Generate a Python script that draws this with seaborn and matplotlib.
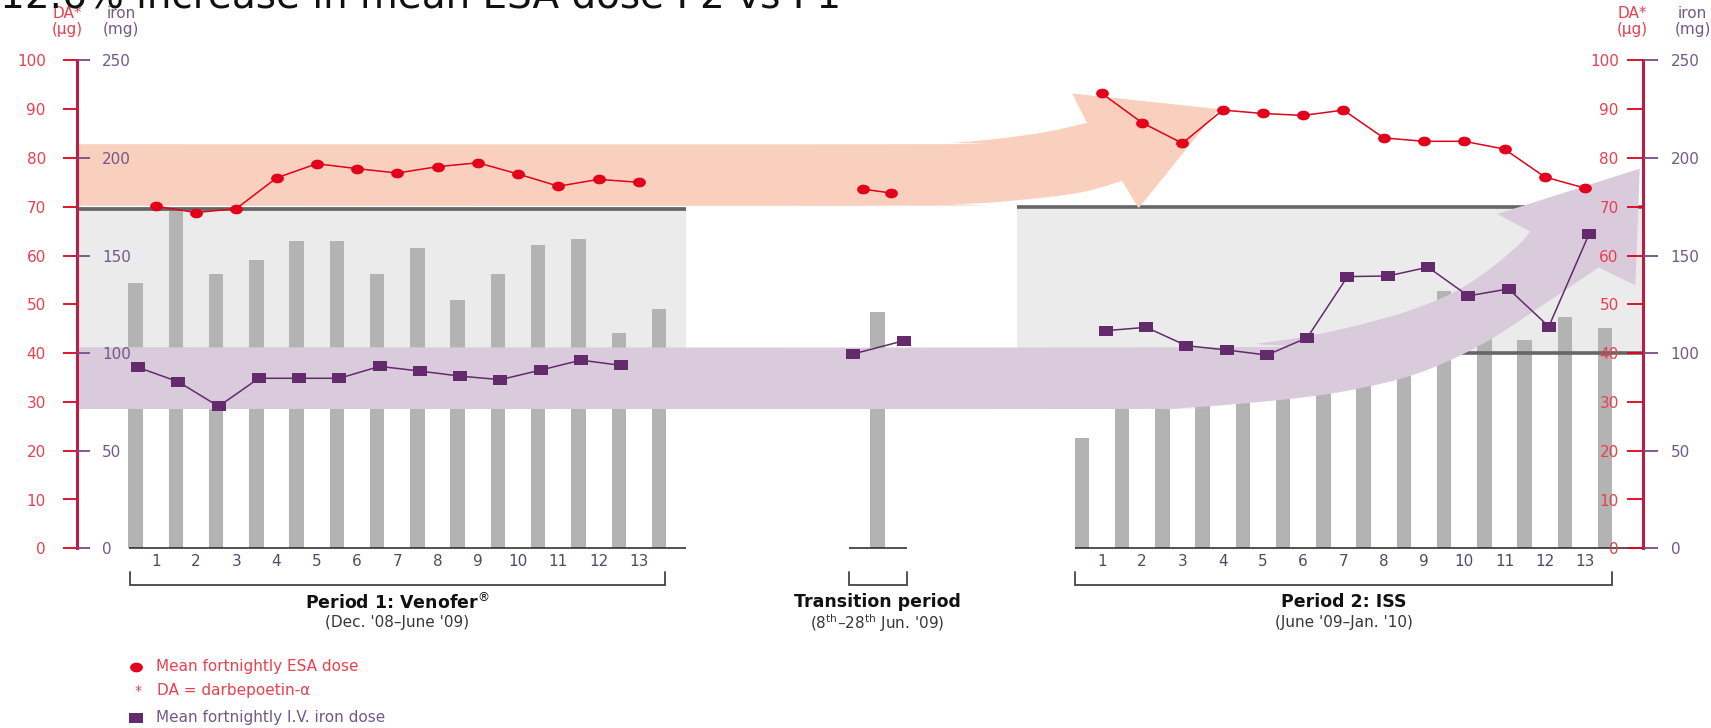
import numpy as np
import pandas as pd
import matplotlib
matplotlib.use("Agg")
import matplotlib.pyplot as plt
from matplotlib.path import Path
from matplotlib.patches import Polygon
import seaborn as sns

sns.set_theme(style="white")
plt.rcParams['font.family'] = ['DejaVu Sans']

# ---------------- data ----------------
week_labels = [str(i) for i in range(1, 14)]

# Period 1 (Venofer), fortnightly means
esa_p1 = [70.1, 68.8, 69.6, 75.9, 78.8, 77.8, 76.9, 78.2, 79.0, 76.7, 74.2, 75.6, 75.0]     # DA, µg
iron_p1 = [92.7, 85.3, 72.7, 87.1, 87.1, 87.1, 93.2, 90.8, 88.2, 86.4, 91.3, 96.4, 93.7]    # iron, mg
bar_p1 = [54.3, 69.3, 56.3, 59.1, 62.9, 62.9, 56.3, 61.5, 50.8, 56.3, 62.2, 63.3, 44.2, 49.1]

# Transition period
esa_tr = [73.6, 72.8]
iron_tr = [99.6, 106.4]
bar_tr = [48.5]

# Period 2 (ISS)
esa_p2 = [93.2, 87.2, 83.0, 89.8, 89.1, 88.7, 89.8, 84.1, 83.4, 83.4, 81.8, 76.1, 73.8]
iron_p2 = [111.5, 113.2, 103.8, 101.6, 99.0, 107.9, 139.2, 139.5, 144.0, 129.3, 132.9, 113.6, 161.0]
bar_p2 = [22.7, 36, 36, 37, 37, 38, 39, 40, 42, 52.7, 49, 42.6, 47.5, 45.1]

da_ticks = list(range(0, 101, 10))
iron_ticks = list(range(0, 251, 50))

# ---------------- style ----------------
RED = '#e2001a'
RED_TXT = '#e8404e'
PURPLE = '#632b6c'
PURPLE_TXT = '#735889'
SPINE = '#bd1c44'
BAR = '#b3b3b3'
BG = '#ebebeb'
DARK = '#666666'
ORANGE_BAND = '#f9cfbe'
PURPLE_BAND = '#d9cbdb'

W, H = 1711, 728
fig = plt.figure(figsize=(W / 100, H / 100), dpi=100)

# plot area in pixels
px_left, px_right = 77.0, 1643.0
px_top, px_bot = 60.3, 548.3
rect = [px_left / W, 1 - px_bot / H, (px_right - px_left) / W, (px_bot - px_top) / H]
ax = fig.add_axes(rect)

# x positions (one unit per fortnight)
p1_start, tr_center, p2_start = 0.0, 18.43, 23.5
n = len(week_labels)
xmin, xmax = -1.456, 37.44

bar_x_p1 = p1_start + np.arange(n + 1)
bar_x_p2 = p2_start + np.arange(n + 1)
esa_x_p1 = p1_start + np.arange(n) + 0.5
esa_x_p2 = p2_start + np.arange(n) + 0.5
iron_x_p1 = p1_start + np.arange(n) + 0.06
iron_x_p2 = p2_start + np.arange(n) + 0.6
esa_x_tr = tr_center + np.array([-0.36, 0.34])
iron_x_tr = tr_center + np.array([-0.60, 0.66])

# ---------------- background panels ----------------
ax.fill_between([xmin, 13.66], 40, 69.6, color=BG, lw=0, zorder=1)
ax.fill_between([21.89, xmax], 40, 70.0, color=BG, lw=0, zorder=1)

# ---------------- bars ----------------
bars = pd.DataFrame({
    'pos': np.r_[bar_x_p1, [tr_center], bar_x_p2],
    'value': bar_p1 + bar_tr + bar_p2,
})
sns.barplot(data=bars, x='pos', y='value', native_scale=True, width=0.36,
            color=BAR, saturation=1, errorbar=None, linewidth=0, ax=ax, zorder=2)

# reference lines of the panels
ax.hlines(69.6, xmin, 13.66, color=DARK, lw=2.7, zorder=3)
ax.hlines([70.0, 40.0], 21.89, xmax, color=DARK, lw=2.6, zorder=3)


# ---------------- trend arrows ----------------
def catmull_rom(pts, steps=12):
    p = np.asarray(pts, float)
    p = np.vstack([p[0], p, p[-1]])
    out = []
    t = np.linspace(0, 1, steps, endpoint=False)[:, None]
    for i in range(1, len(p) - 2):
        p0, p1, p2, p3 = p[i - 1], p[i], p[i + 1], p[i + 2]
        out.append(0.5 * (2 * p1 + (-p0 + p2) * t + (2 * p0 - 5 * p1 + 4 * p2 - p3) * t ** 2
                          + (-p0 + 3 * p1 - 3 * p2 + p3) * t ** 3))
    out.append(p[-2][None])
    return np.vstack(out)


esa_top = [(xmin, 82.8), (19.24, 82.8), (20.32, 83.1), (21.15, 83.7), (21.97, 84.5),
           (22.8, 85.6), (23.63, 87.2)]
esa_head = [(23.26, 93.2), (26.9, 90.0), (24.91, 69.7)]
esa_bottom = [(24.5, 75.3), (23.63, 73.2), (22.8, 72.1), (21.97, 71.4), (21.15, 70.8),
              (20.32, 70.5), (19.24, 70.2), (xmin, 70.2)]
esa_arrow = np.vstack([catmull_rom(esa_top), esa_head, catmull_rom(esa_bottom)])
ax.add_patch(Polygon(esa_arrow, closed=True, facecolor=ORANGE_BAND, edgecolor='none', zorder=4))

fe_top = [(xmin, 41.2), (26.3, 41.2), (27.9, 42.0), (29.5, 44.1), (31.0, 47.1), (31.8, 49.2),
          (32.7, 52.3), (33.5, 56.4), (34.3, 61.8), (34.64, 64.9)]
fe_head = [(33.82, 68.5), (37.36, 77.8), (37.25, 53.9)]
fe_bottom = [(36.34, 57.55), (35.14, 50.9), (33.48, 42.0), (31.83, 35.8), (30.17, 32.4),
             (28.76, 30.7), (27.1, 29.4), (25.87, 28.7), (24.5, 28.55), (xmin, 28.55)]
fe_arrow = np.vstack([catmull_rom(fe_top), fe_head, catmull_rom(fe_bottom)])
ax.add_patch(Polygon(fe_arrow, closed=True, facecolor=PURPLE_BAND, edgecolor='none', zorder=4))

# ---------------- markers ----------------
t = np.linspace(0, 2 * np.pi, 48)
oval = Path(np.c_[np.cos(t), 0.76 * np.sin(t)], closed=True)
block = Path([(-1, -0.76), (1, -0.76), (1, 0.76), (-1, 0.76), (-1, -0.76)], closed=True)

for xs, ys in [(esa_x_p1, esa_p1), (esa_x_tr, esa_tr), (esa_x_p2, esa_p2)]:
    sns.lineplot(x=xs, y=ys, ax=ax, color=RED, marker=oval, markersize=9.2,
                 markeredgewidth=0, linewidth=1.1, sort=False, estimator=None,
                 legend=False, zorder=6)

# iron series on its own mg scale
ax_fe = fig.add_axes(rect, sharex=ax)
ax_fe.set_zorder(ax.get_zorder() + 1)
ax_fe.patch.set_visible(False)
for xs, ys in [(iron_x_p1, iron_p1), (iron_x_tr, iron_tr), (iron_x_p2, iron_p2)]:
    sns.lineplot(x=xs, y=ys, ax=ax_fe, color=PURPLE, marker=block, markersize=10.2,
                 markeredgewidth=0, linewidth=1.1, sort=False, estimator=None,
                 legend=False, zorder=6)
ax_fe.set_ylim(0, 250)
ax_fe.axis('off')

# ---------------- axes styling ----------------
ax.set_xlim(xmin, xmax)
ax.set_ylim(0, 100)
ax.set_xlabel('')
ax.set_ylabel('')
for side in ['top', 'bottom']:
    ax.spines[side].set_visible(False)
for side in ['left', 'right']:
    ax.spines[side].set_color(SPINE)
    ax.spines[side].set_linewidth(2.2)
    ax.spines[side].set_zorder(7)

ax.set_yticks(da_ticks)
ax.yaxis.set_ticks_position('left')
ax.tick_params(axis='y', direction='out', length=10, width=1.3, color=RED,
               labelcolor=RED_TXT, labelsize=11, pad=12.5)

# fortnight ticks below each period
label_pos = list(esa_x_p1) + list(esa_x_p2)
ax.set_xticks(label_pos)
ax.set_xticklabels(week_labels + week_labels)
ax.set_xticks(list(bar_x_p1) + [tr_center] + list(bar_x_p2), minor=True)
ax.tick_params(axis='x', which='major', length=0, pad=4, labelsize=11, labelcolor='#564766')
ax.tick_params(axis='x', which='minor', direction='out', length=8, width=1.1, color='#222222')
ax.hlines(0, -0.17, 13.66, color='#222222', lw=1.1, clip_on=False, zorder=7)
ax.hlines(0, tr_center - 0.72, tr_center + 0.73, color='#222222', lw=1.1, clip_on=False, zorder=7)
ax.hlines(0, p2_start - 0.16, xmax, color='#222222', lw=1.1, clip_on=False, zorder=7)


def tick_column(xpix, side, lim, ticks, color, txt_color, length, pad):
    a = fig.add_axes([xpix / W, rect[1], 1e-5, rect[3]])
    a.set_ylim(lim)
    a.set_yticks(ticks)
    a.set_xticks([])
    for s in a.spines.values():
        s.set_visible(False)
    a.patch.set_visible(False)
    a.yaxis.set_ticks_position(side)
    a.tick_params(axis='y', direction='out', length=length, width=1.3, color=color,
                  labelcolor=txt_color, labelsize=11, pad=pad)
    return a


tick_column(px_left, 'right', (0, 250), iron_ticks, '#7a4b8a', PURPLE_TXT, 9.6, 8.4)
tick_column(px_right, 'left', (0, 100), da_ticks, RED, RED_TXT, 11.5, 6.0)
tick_column(px_right, 'right', (0, 250), iron_ticks, '#7a4b8a', PURPLE_TXT, 11.0, 8.8)

# unit headers
xt = ax.get_xaxis_transform()
for x_da, x_fe in [(-1.70, -0.36), (37.18, 38.67)]:
    ax.text(x_da, 1.095, 'DA*', transform=xt, ha='center', va='center', fontsize=11,
            color=RED_TXT, clip_on=False)
    ax.text(x_da, 1.063, '(µg)', transform=xt, ha='center', va='center', fontsize=11,
            color=RED_TXT, clip_on=False)
    ax.text(x_fe, 1.095, 'iron', transform=xt, ha='center', va='center', fontsize=11,
            color=PURPLE_TXT, clip_on=False)
    ax.text(x_fe, 1.063, '(mg)', transform=xt, ha='center', va='center', fontsize=11,
            color=PURPLE_TXT, clip_on=False)

# period brackets and titles
periods = [
    (-0.15, 13.15, 6.5, r'Period 1: Venofer$^{\circledR}$', "(Dec. '08–June '09)"),
    (tr_center - 0.72, tr_center + 0.73, tr_center, 'Transition period',
     r"(8$^{\mathrm{th}}$–28$^{\mathrm{th}}$ Jun. '09)"),
    (p2_start - 0.16, p2_start + 13.18, p2_start + 6.5, 'Period 2: ISS', "(June '09–Jan. '10)"),
]
for a, b, c, title, sub in periods:
    ax.plot([a, a, b, b], [-0.048, -0.075, -0.075, -0.048], transform=xt, color='#444444',
            lw=1.3, clip_on=False, solid_joinstyle='miter')
    ax.text(c, -0.111, title, transform=xt, ha='center', va='center', fontsize=12.5,
            fontweight='bold', color='#111111', clip_on=False)
    ax.text(c, -0.153, sub, transform=xt, ha='center', va='center', fontsize=11,
            color='#3a3340', clip_on=False)

# legend
ax.plot([0.0], [-0.2425], transform=xt, marker=oval, ms=9.2, color=RED, mew=0, clip_on=False)
ax.text(0.5, -0.2425, 'Mean fortnightly ESA dose', transform=xt, va='center', fontsize=11,
        color=RED_TXT, clip_on=False)
ax.text(0.07, -0.2916, '*', transform=xt, va='center', ha='center', fontsize=10,
        color=RED_TXT, clip_on=False)
ax.text(0.54, -0.2916, 'DA = darbepoetin-α', transform=xt, va='center', fontsize=11,
        color=RED_TXT, clip_on=False)
ax.plot([0.0], [-0.347], transform=xt, marker=block, ms=10.2, color=PURPLE, mew=0, clip_on=False)
ax.text(0.5, -0.347, 'Mean fortnightly I.V. iron dose', transform=xt, va='center', fontsize=11,
        color=PURPLE_TXT, clip_on=False)

# headline running off the top edge
fig.text(0.0, 1 - 7 / H, '12.6% increase in mean ESA dose P2 vs P1', va='baseline', ha='left',
         fontsize=28, color='#111111')

fig.savefig('out.png', dpi=100)
